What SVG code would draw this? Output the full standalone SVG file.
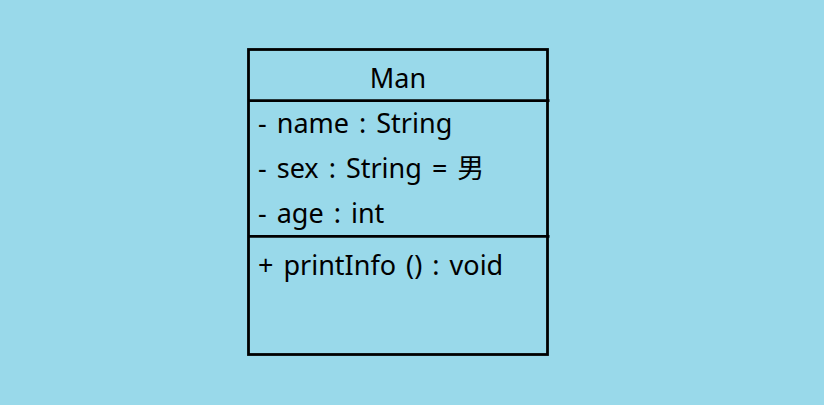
<svg xmlns="http://www.w3.org/2000/svg" width="824" height="405" viewBox="0 0 824 405">
<style>
.bg{fill:#99D9EA}
.box{fill:none;stroke:#000;stroke-width:2.8}
.t{font-family:"Noto Sans","Noto Sans CJK SC",sans-serif;font-size:27px;word-spacing:3px;fill:#000}
</style>
<rect class="bg" x="0" y="0" width="824" height="405"/>
<g id="man">
<rect class="box" x="248.5" y="49.5" width="299" height="305"/>
<line class="box" x1="248.5" y1="100.7" x2="549.5" y2="100.7"/>
<line class="box" x1="248.5" y1="236.3" x2="549.5" y2="236.3"/>
<text class="t" x="398" y="88" text-anchor="middle">Man</text>
<text class="t" x="258" y="132.5">- name : String</text>
<text class="t" x="258" y="177.5">- sex : String = 男</text>
<text class="t" x="258" y="222.5">- age : int</text>
<text class="t" x="258" y="274.5">+ printInfo () : void</text>
</g>
<g id="connectors"/>
</svg>
